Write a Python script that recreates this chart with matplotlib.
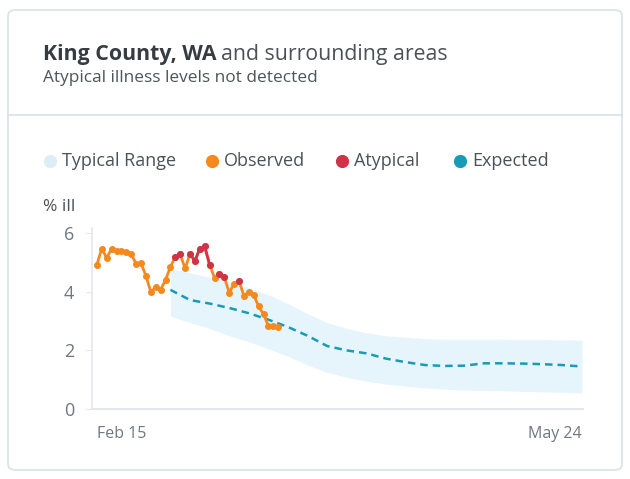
import matplotlib
matplotlib.use("Agg")
import matplotlib.pyplot as plt
from matplotlib.patches import FancyBboxPatch
from matplotlib.lines import Line2D

# daily observed % ill, day 0 = Feb 15
obs_days = list(range(38))
obs_vals = [4.93, 5.48, 5.15, 5.48, 5.41, 5.38, 5.35, 5.30, 4.95, 4.98,
            4.55, 4.00, 4.15, 4.08, 4.40, 4.85, 5.20, 5.28, 4.80, 5.30,
            5.05, 5.48, 5.55, 4.93, 4.48, 4.62, 4.50, 3.97, 4.28, 4.38,
            3.86, 4.00, 3.90, 3.50, 3.24, 2.83, 2.83, 2.80]
atypical_days = [16, 17, 19, 20, 21, 22, 23, 25, 26, 29]

# expected and typical range
exp_days = [15, 19, 23, 27, 31, 35, 39, 43, 47, 51, 55,
            59, 63, 67, 71, 75, 79, 83, 87, 91, 95, 99]
exp_vals = [4.07, 3.72, 3.60, 3.45, 3.27, 3.05, 2.80, 2.50, 2.15, 2.00, 1.90,
            1.72, 1.60, 1.50, 1.47, 1.48, 1.56, 1.56, 1.55, 1.53, 1.50, 1.45]
band_hi = [4.80, 4.65, 4.50, 4.35, 4.15, 3.90, 3.60, 3.25, 2.95, 2.75, 2.60,
           2.50, 2.45, 2.40, 2.38, 2.38, 2.38, 2.38, 2.37, 2.37, 2.36, 2.35]
band_lo = [3.17, 2.95, 2.75, 2.50, 2.30, 2.05, 1.80, 1.50, 1.25, 1.08, 0.95,
           0.85, 0.78, 0.72, 0.68, 0.65, 0.63, 0.62, 0.60, 0.58, 0.57, 0.55]

x_ticks = [0, 99]
x_labels = ["Feb 15", "May 24"]
y_ticks = [0, 2, 4, 6]

ORANGE = "#f5891e"
RED = "#cf3349"
TEAL = "#1a9bb5"
BAND = "#e6f5fb"
GREY = "#6f7780"
DARK = "#363c42"

plt.rcParams["font.family"] = ["Open Sans", "DejaVu Sans"]

W, H = 630, 479
fig = plt.figure(figsize=(W / 100, H / 100), dpi=100)


def fx(px):
    return px / W


def fy(py):
    return 1 - py / H


# card
card = FancyBboxPatch((fx(8), fy(470)), fx(614), 460 / H,
                      boxstyle="round,pad=0,rounding_size=0.012",
                      transform=fig.transFigure, facecolor="white",
                      edgecolor="#d6e3e8", linewidth=1.2, zorder=-5)
fig.patches.append(card)
fig.add_artist(Line2D([fx(8), fx(622)], [fy(115), fy(115)],
                      transform=fig.transFigure, color="#d6e3e8", lw=1.2))

# title
t1 = fig.text(fx(43), fy(60), "King County, WA", fontsize=15.3, fontweight="bold",
              color=DARK, va="baseline")
fig.canvas.draw()
bb = t1.get_window_extent()
fig.text(bb.x1 / W + 0.007, fy(60), "and surrounding areas", fontsize=15.3,
         color="#4a5157", va="baseline")
fig.text(fx(43), fy(82), "Atypical illness levels not detected", fontsize=12.4,
         color="#4d555c", va="baseline")

# legend
leg_items = [(50, "Typical Range", "#dcedf5"), (212, "Observed", ORANGE),
             (342, "Atypical", RED), (460, "Expected", TEAL)]
for px, label, col in leg_items:
    fig.add_artist(Line2D([fx(px)], [fy(161)], marker="o", markersize=8.5,
                          color=col, transform=fig.transFigure))
    fig.text(fx(px + 12), fy(161), label, fontsize=13, color="#4a5259",
             va="center")

fig.text(fx(43), fy(207), "% ill", fontsize=12.5, color="#4a5259", va="center")

ax = fig.add_axes([fx(92), fy(409), fx(583 - 92), (409 - 228) / H])
ax.fill_between(exp_days, band_lo, band_hi, color=BAND, lw=0, zorder=1)
ax.plot(exp_days, exp_vals, color=TEAL, lw=1.8, ls=(0, (3, 2)), zorder=2)

ax.plot(obs_days, obs_vals, color=ORANGE, lw=2, marker="o", markersize=4,
        zorder=3)
for d in atypical_days:
    if d + 1 in atypical_days:
        ax.plot([d, d + 1], [obs_vals[d], obs_vals[d + 1]], color=RED, lw=2,
                zorder=4)
ax.plot(atypical_days, [obs_vals[d] for d in atypical_days], ls="none",
        marker="o", markersize=4, color=RED, zorder=5)

ax.set_xlim(-1, 99.2)
ax.set_ylim(0, 6.18)
ax.set_yticks(y_ticks)
ax.set_yticklabels([str(v) for v in y_ticks], fontsize=13, color=GREY)
ax.set_xticks(x_ticks)
ax.set_xticklabels(x_labels, fontsize=11.5, color=GREY)
ax.get_xticklabels()[0].set_ha("left")
ax.get_xticklabels()[1].set_ha("right")
ax.tick_params(axis="x", length=0, pad=12)
ax.tick_params(axis="y", length=4, color="#e2e8ec", pad=9)
for s in ["top", "right"]:
    ax.spines[s].set_visible(False)
ax.spines["left"].set_color("#e2e8ec")
ax.spines["bottom"].set_color("#e2e8ec")
ax.spines["left"].set_linewidth(1.2)
ax.spines["bottom"].set_linewidth(1.5)
ax.patch.set_alpha(0)

fig.savefig("out.png", dpi=100)
